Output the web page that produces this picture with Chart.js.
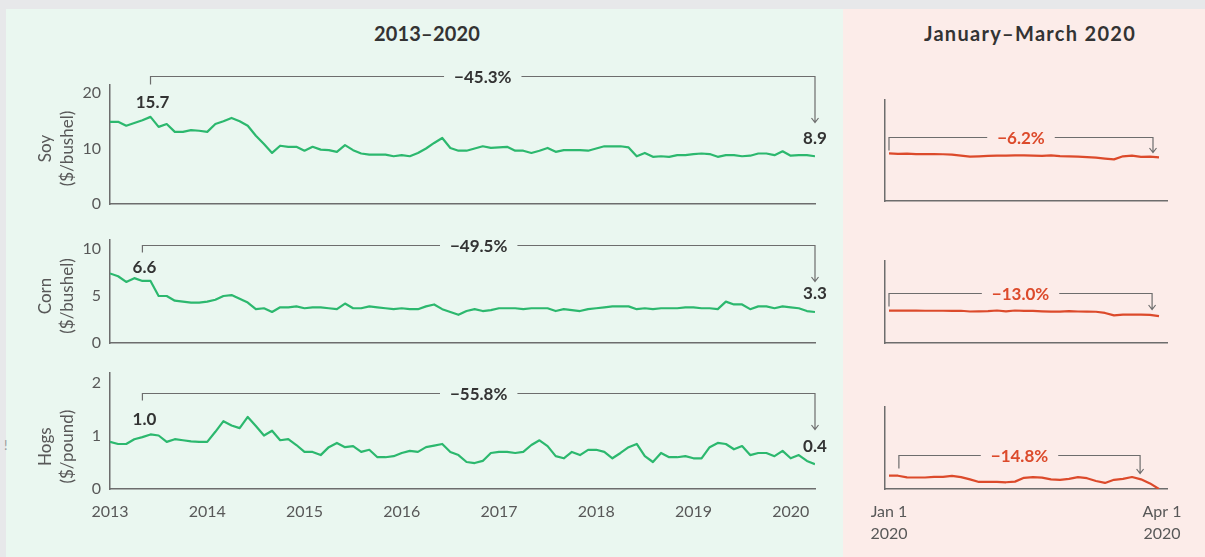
<!DOCTYPE html>
<html>
<head>
<meta charset="utf-8">
<script src="https://cdn.jsdelivr.net/npm/chart.js@4.4.0/dist/chart.umd.min.js"></script>
<style>
html, body { margin: 0; padding: 0; }
body { width: 1205px; height: 557px; background: #e7e8ea; position: relative; overflow: hidden; font-family: Lato, "Open Sans", sans-serif; }
#green { position: absolute; left: 6px; top: 9px; width: 837px; height: 548px; background: #eaf7f0; }
#pink { position: absolute; left: 843px; top: 9px; width: 362px; height: 548px; background: #fcece9; }
.title { position: absolute; top: 23px; line-height: 21px; font-weight: bold; font-size: 20px; color: #333; transform: translateX(-50%); white-space: nowrap; }
#mark { position: absolute; left: 4px; top: 437px; font-size: 13px; color: #9a9a9a; }
canvas { position: absolute; left: 0; top: 0; }
</style>
</head>
<body>
<div id="green"></div>
<div id="pink"></div>
<div class="title" style="left:427px; letter-spacing:0.2px">2013–2020</div>
<div class="title" style="left:1030px; letter-spacing:1.3px">January–March 2020</div>
<div id="mark">!</div>
<canvas id="soyL" width="1205" height="557"></canvas>
<canvas id="cornL" width="1205" height="557"></canvas>
<canvas id="hogsL" width="1205" height="557"></canvas>
<canvas id="soyR" width="1205" height="557"></canvas>
<canvas id="cornR" width="1205" height="557"></canvas>
<canvas id="hogsR" width="1205" height="557"></canvas>
<script>
// monthly prices, Jan 2013 .. Apr 2020 (index = month number)
const soyMonthly = [
  14.8, 14.8, 14.1, 14.6, 15.1, 15.7, 13.9, 14.4, 13.0, 13.0, 13.3, 13.2,
  13.0, 14.4, 14.9, 15.5, 14.9, 14.1, 12.3, 10.8, 9.2, 10.5, 10.3, 10.3,
  9.6, 10.3, 9.8, 9.7, 9.4, 10.6, 9.7, 9.1, 8.9, 8.9, 8.9, 8.6,
  8.8, 8.6, 9.2, 10.0, 11.0, 11.9, 10.1, 9.6, 9.6, 10.0, 10.4, 10.1,
  10.2, 10.3, 9.6, 9.6, 9.2, 9.6, 10.1, 9.4, 9.7, 9.7, 9.7, 9.6,
  10.0, 10.4, 10.4, 10.4, 10.2, 8.6, 9.2, 8.5, 8.6, 8.5, 8.8, 8.8,
  9.0, 9.1, 9.0, 8.5, 8.8, 8.8, 8.6, 8.7, 9.1, 9.1, 8.8, 9.5,
  8.7, 8.8, 8.8, 8.6
];
const cornMonthly = [
  7.4, 7.1, 6.5, 6.9, 6.6, 6.6, 5.0, 5.0, 4.5, 4.4, 4.3, 4.3,
  4.4, 4.6, 5.0, 5.1, 4.7, 4.3, 3.6, 3.7, 3.3, 3.8, 3.8, 3.9,
  3.7, 3.8, 3.8, 3.7, 3.6, 4.2, 3.7, 3.7, 3.9, 3.8, 3.7, 3.6,
  3.7, 3.6, 3.6, 3.9, 4.1, 3.6, 3.3, 3.0, 3.4, 3.6, 3.4, 3.5,
  3.7, 3.7, 3.7, 3.6, 3.7, 3.7, 3.7, 3.4, 3.6, 3.5, 3.4, 3.6,
  3.7, 3.8, 3.9, 3.9, 3.9, 3.6, 3.7, 3.6, 3.7, 3.7, 3.7, 3.8,
  3.8, 3.7, 3.7, 3.6, 4.4, 4.1, 4.1, 3.6, 3.9, 3.9, 3.7, 3.9,
  3.8, 3.7, 3.4, 3.3
];
const hogsMonthly = [
  0.89, 0.85, 0.85, 0.94, 0.98, 1.03, 1.01, 0.89, 0.94, 0.92, 0.90, 0.89,
  0.89, 1.08, 1.28, 1.20, 1.15, 1.36, 1.19, 1.01, 1.10, 0.92, 0.94, 0.83,
  0.70, 0.70, 0.64, 0.79, 0.87, 0.79, 0.81, 0.70, 0.74, 0.60, 0.60, 0.62,
  0.68, 0.72, 0.70, 0.79, 0.82, 0.85, 0.70, 0.64, 0.51, 0.49, 0.53, 0.68,
  0.70, 0.70, 0.68, 0.70, 0.83, 0.92, 0.81, 0.62, 0.58, 0.70, 0.64, 0.74,
  0.74, 0.70, 0.58, 0.68, 0.79, 0.85, 0.62, 0.51, 0.68, 0.60, 0.60, 0.62,
  0.58, 0.58, 0.79, 0.87, 0.85, 0.75, 0.81, 0.64, 0.68, 0.68, 0.62, 0.72,
  0.58, 0.64, 0.53, 0.47
];
const months = soyMonthly.map((v, i) => i);

// Jan 1 - Mar 31 2020, days since Jan 1
const q1Days = [0, 3, 6, 9, 12, 15, 18, 21, 24, 27, 30, 33, 36, 39, 42, 45,
  48, 51, 54, 57, 60, 63, 66, 69, 72, 75, 78, 81, 84, 87, 90];
const soyQ1 = [9.45, 9.35, 9.4, 9.3, 9.28, 9.27, 9.26, 9.2, 9.0, 8.8, 8.85, 8.92,
  8.97, 9.0, 9.03, 9.05, 9.0, 8.95, 9.05, 8.9, 8.85, 8.78, 8.7, 8.58, 8.4, 8.25,
  8.85, 8.97, 8.72, 8.8, 8.65];
const cornQ1 = [3.99, 3.99, 3.99, 3.99, 3.97, 3.97, 3.97, 3.95, 3.97, 3.88, 3.9, 3.92,
  4.0, 3.9, 4.0, 3.96, 3.95, 3.9, 3.86, 3.86, 3.92, 3.88, 3.86, 3.85, 3.7, 3.4,
  3.5, 3.49, 3.49, 3.46, 3.3];
const hogsQ1 = [0.582, 0.581, 0.571, 0.570, 0.570, 0.574, 0.574, 0.580, 0.572, 0.559,
  0.543, 0.543, 0.543, 0.541, 0.545, 0.568, 0.572, 0.569, 0.559, 0.556, 0.562,
  0.572, 0.566, 0.549, 0.537, 0.556, 0.562, 0.573, 0.559, 0.534, 0.500];

// ticks and labels
const soyTicks = [0, 10, 20];
const cornTicks = [0, 5, 10];
const hogsTicks = [0, 1, 2];
const yearTicks = [0, 12, 24, 36, 48, 60, 72, 84];
const yearLabels = ['2013', '2014', '2015', '2016', '2017', '2018', '2019', '2020'];
const q1Ticks = [0, 91];
const q1Labels = [['Jan 1', '2020'], ['Apr 1', '2020']];

// annotation texts
const startLabels = ['15.7', '6.6', '1.0'];
const endLabels = ['8.9', '3.3', '0.4'];
const longChange = ['\u221245.3%', '\u221249.5%', '\u221255.8%'];
const shortChange = ['\u22126.2%', '\u221213.0%', '\u221214.8%'];

const W = 1205, H = 557;
const AXIS = '#6d6d6d', TEXT = '#333', TICK = '#585858';
const GREEN = '#2cb86e', RED = '#dc4a2b';
const FONT = 'Lato, "Open Sans", sans-serif';

const annotate = {
  id: 'annotate',
  afterDraw(chart, args, o) {
    const { ctx } = chart;
    const xs = chart.scales.x, ys = chart.scales.y;
    const pts = chart.data.datasets[0].data;
    ctx.save();

    if (o.title) {
      ctx.fillStyle = TICK;
      ctx.font = '17px ' + FONT;
      ctx.textAlign = 'center';
      ctx.textBaseline = 'middle';
      const cy = ys.getPixelForValue(o.titleAt);
      o.title.forEach((t, k) => {
        ctx.save();
        ctx.translate(o.titleX[k], cy);
        ctx.rotate(-Math.PI / 2);
        ctx.fillText(t, 0, 0);
        ctx.restore();
      });
    }

    const x0 = xs.getPixelForValue(o.from);
    const x1 = xs.getPixelForValue(o.to);
    const by = Math.round(ys.getPixelForValue(pts[o.ref].y)) - o.rise + 0.5;
    const last = pts[pts.length - 1];
    const ay = by + o.arrowLen;

    ctx.font = 'bold 17px ' + FONT;
    const tw = ctx.measureText(o.pct).width;
    const cx = (x0 + x1) / 2;
    ctx.strokeStyle = AXIS;
    ctx.lineWidth = 1.2;
    ctx.beginPath();
    ctx.moveTo(x0, by + o.tickLen);
    ctx.lineTo(x0, by);
    ctx.lineTo(cx - tw / 2 - 10, by);
    ctx.moveTo(cx + tw / 2 + 10, by);
    ctx.lineTo(x1, by);
    ctx.lineTo(x1, ay);
    ctx.moveTo(x1 - 3.5, ay - 4.5);
    ctx.lineTo(x1, ay);
    ctx.lineTo(x1 + 3.5, ay - 4.5);
    ctx.stroke();

    ctx.textAlign = 'center';
    ctx.textBaseline = 'middle';
    ctx.fillStyle = o.pctColor;
    ctx.fillText(o.pct, cx, by + 1);

    if (o.startLabel) {
      ctx.fillStyle = TEXT;
      ctx.fillText(o.startLabel, x0 + 2, by + o.labelDy);
      ctx.fillText(o.endLabel, x1, ys.getPixelForValue(last.y) - 18);
    }
    ctx.restore();
  }
};

function buildChart(id, p) {
  const data = p.ys.map((v, i) => ({ x: p.xs[i], y: v }));
  return new Chart(document.getElementById(id), {
    type: 'line',
    data: {
      datasets: [{
        data: data, borderColor: p.color, borderWidth: 2.2, pointRadius: 0,
        tension: 0, borderJoinStyle: 'round', fill: false
      }]
    },
    options: {
      responsive: false,
      animation: false,
      events: [],
      layout: { padding: { left: p.area[0] - p.yW, top: p.area[1], right: W - p.area[2], bottom: H - p.area[3] - p.xH } },
      plugins: { legend: { display: false }, tooltip: { enabled: false }, annotate: p.ann },
      scales: {
        x: {
          type: 'linear', min: p.xMin, max: p.xMax,
          grid: { display: false, drawTicks: false },
          border: { display: true, color: AXIS, width: 1.5 },
          ticks: {
            display: !!p.xTicks, padding: 12, color: TICK, maxRotation: 0, autoSkip: false,
            font: { family: FONT, size: 16, lineHeight: 1.35 },
            callback: (v, i) => p.xLabels ? p.xLabels[i] : ''
          },
          afterBuildTicks: s => { if (p.xTicks) s.ticks = p.xTicks.map(v => ({ value: v })); },
          afterFit: s => { s.height = p.xH; }
        },
        y: {
          type: 'linear', min: p.yMin, max: p.yMax,
          grid: { display: false, drawTicks: false },
          border: { display: true, color: AXIS, width: 1.5 },
          ticks: {
            display: !!p.yTicks, padding: 9, color: TICK,
            font: { family: FONT, size: 16 },
            callback: v => String(v)
          },
          afterBuildTicks: s => { if (p.yTicks) s.ticks = p.yTicks.map(v => ({ value: v })); },
          afterFit: s => { s.width = p.yW; }
        }
      }
    },
    plugins: [annotate]
  });
}

function longAnn(k, from, rise, tickLen, arrowLen, labelDy, title, titleAt) {
  return {
    from: from, to: 87, ref: from, rise: rise, tickLen: tickLen, arrowLen: arrowLen,
    labelDy: labelDy, pct: longChange[k], pctColor: TEXT,
    startLabel: startLabels[k], endLabel: endLabels[k],
    title: title, titleX: [46, 68], titleAt: titleAt
  };
}
function shortAnn(k, from, to, rise, arrowLen) {
  return { from: from, to: to, ref: 0, rise: rise, tickLen: 13, arrowLen: arrowLen, pct: shortChange[k], pctColor: RED };
}

function draw() {
  const L = { xs: months, xMin: 0, xMax: 87, color: GREEN, yW: 40 };
  const R = { xs: q1Days, xMin: -1.33, xMax: 92.67, color: RED, yW: 0 };

  buildChart('soyL', Object.assign({}, L, {
    ys: soyMonthly, area: [110, 85, 815, 204], yMin: 0, yMax: 21.44, yTicks: soyTicks, xH: 0,
    ann: longAnn(0, 5, 41, 8, 46, 26, ['Soy', '($/bushel)'], 10)
  }));
  buildChart('cornL', Object.assign({}, L, {
    ys: cornMonthly, area: [110, 240, 815, 343], yMin: 0, yMax: 10.96, yTicks: cornTicks, xH: 0,
    ann: longAnn(1, 4, 36, 7, 36, 22, ['Corn', '($/bushel)'], 5)
  }));
  buildChart('hogsL', Object.assign({}, L, {
    ys: hogsMonthly, area: [110, 373, 815, 489], yMin: 0, yMax: 2.19, yTicks: hogsTicks,
    xTicks: yearTicks, xLabels: yearLabels, xH: 62,
    ann: longAnn(2, 4, 44, 7, 36, 26, ['Hogs', '($/pound)'], 0.8)
  }));
  buildChart('soyR', Object.assign({}, R, {
    ys: soyQ1, area: [885, 100, 1167, 201], yMin: 0, yMax: 20, xH: 0,
    ann: shortAnn(0, 0, 88, 16, 15)
  }));
  buildChart('cornR', Object.assign({}, R, {
    ys: cornQ1, area: [885, 261, 1167, 343], yMin: 0, yMax: 10.1, xH: 0,
    ann: shortAnn(1, 0, 87.7, 18, 16)
  }));
  buildChart('hogsR', Object.assign({}, R, {
    ys: hogsQ1, area: [885, 407, 1167, 489], yMin: 0.5, yMax: 1.0,
    xTicks: q1Ticks, xLabels: q1Labels, xH: 62,
    ann: shortAnn(2, 3.3, 83.7, 21, 18)
  }));
}

Promise.all([document.fonts.load('16px Lato'), document.fonts.load('bold 17px Lato')])
  .then(draw, draw);
</script>
</body>
</html>
